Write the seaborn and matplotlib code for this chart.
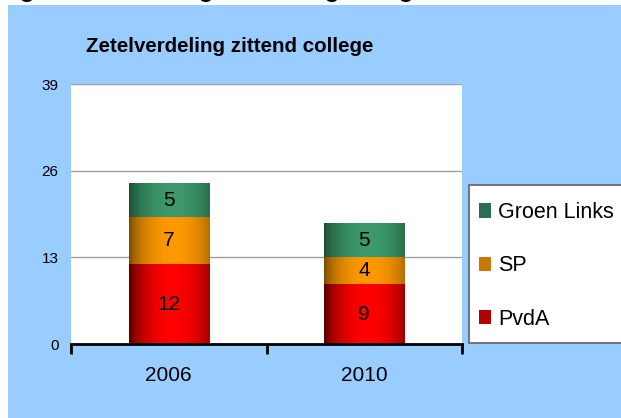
import numpy as np
import pandas as pd
import matplotlib
matplotlib.use("Agg")
import matplotlib.pyplot as plt
from matplotlib.patches import Rectangle, Patch
import seaborn as sns

# data
years = ["2006", "2010"]
pvda = [12, 9]
sp = [7, 4]
groen_links = [5, 5]
parties = ["PvdA", "SP", "Groen Links"]
y_ticks = [0, 13, 26, 39]

sns.set_theme(style="white")
plt.rcParams["font.family"] = ["Liberation Sans", "DejaVu Sans"]
plt.rcParams["text.color"] = "black"
plt.rcParams["xtick.color"] = "black"
plt.rcParams["ytick.color"] = "black"

df = pd.DataFrame({"year": years, "PvdA": pvda, "SP": sp, "Groen Links": groen_links})
df["cum_sp"] = df["PvdA"] + df["SP"]
df["cum_gl"] = df["cum_sp"] + df["Groen Links"]

# (dark edge colour, bright centre colour)
shades = {
    "PvdA": ((0.30, 0.0, 0.0), (1.0, 0.0, 0.0)),
    "SP": ((0.45, 0.28, 0.0), (1.0, 0.60, 0.0)),
    "Groen Links": ((0.10, 0.28, 0.18), (0.24, 0.60, 0.42)),
}
legend_cols = {"PvdA": "#b00000", "SP": "#c87800", "Groen Links": "#2a7050"}

fig = plt.figure(figsize=(6.21, 4.18), dpi=100, facecolor="white")
fig.patches.append(Rectangle((8 / 621, 0), 1, 1 - 5 / 418, transform=fig.transFigure,
                             facecolor="#99ccff", edgecolor="none", zorder=-10))
# cut-off header line above the chart
for gx in [19, 198, 324, 398]:
    fig.text(gx / 621, 1 + 4 / 418, "g", fontsize=21, va="baseline", color="black")

ax = fig.add_axes([71 / 621, 1 - 344 / 418, (462 - 71) / 621, (344 - 84) / 418])
ax.set_facecolor("white")

# stacked bars, top segment first
cols = [("Groen Links", "cum_gl"), ("SP", "cum_sp"), ("PvdA", "PvdA")]
for name, col in cols:
    sns.barplot(data=df, x="year", y=col, color=shades[name][1], width=0.41,
                ax=ax, zorder=2)

# horizontal cylinder shading on each bar segment
t = np.linspace(0, 1, 200)
prof = np.clip(1 - ((t - 0.55) / 0.55) ** 2, 0, 1) ** 0.7
for (name, col), cont in zip(cols, ax.containers):
    dark, bright = np.array(shades[name][0]), np.array(shades[name][1])
    grad = dark[None, :] + (bright - dark)[None, :] * prof[:, None]
    for p, base in zip(cont.patches, df[col] - df[name]):
        x0, w = p.get_x(), p.get_width()
        top = p.get_height()
        ax.imshow(grad[None, :, :], extent=(x0, x0 + w, base, top), aspect="auto",
                  zorder=3, interpolation="bilinear")
        p.set_visible(False)

# segment labels
for name, col in cols:
    for i, (v, c) in enumerate(zip(df[name], df[col])):
        ax.text(i, c - v / 2, str(v), ha="center", va="center", fontsize=15,
                color="black", zorder=4)

ax.set_xlim(-0.5, 1.5)
ax.set_ylim(0, 39)
ax.set_yticks(y_ticks)
ax.set_yticklabels([str(v) for v in y_ticks], fontsize=11)
ax.yaxis.grid(True, color="#a0a0a0", linewidth=1)
ax.set_axisbelow(True)
ax.tick_params(axis="y", length=0, pad=9)
ax.set_xticks([0, 1])
ax.set_xticklabels(years, fontsize=15)
ax.set_xticks([-0.5, 0.5, 1.5], minor=True)
ax.tick_params(axis="x", which="major", length=0, pad=16)
ax.tick_params(axis="x", which="minor", length=7, width=2, direction="out", color="black", bottom=True)
ax.set_xlabel("")
ax.set_ylabel("")
for s in ["left", "right", "top"]:
    ax.spines[s].set_visible(False)
ax.spines["bottom"].set_color("black")
ax.spines["bottom"].set_linewidth(2)
ax.spines["bottom"].set_zorder(5)

fig.text(230 / 621, 1 - 52 / 418, "Zetelverdeling zittend college", fontsize=14.8,
         fontweight="bold", ha="center", va="baseline", color="black")

# legend box
fig.patches.append(Rectangle((469 / 621, 1 - 343 / 418), 0.5, (343 - 185) / 418,
                             transform=fig.transFigure, facecolor="white",
                             edgecolor="#606060", linewidth=1.2, zorder=1))
handles = [Patch(facecolor=legend_cols[n], edgecolor="none") for n in reversed(parties)]
leg = fig.legend(handles, list(reversed(parties)), loc="upper left",
                 bbox_to_anchor=(479 / 621, 1 - 202 / 418), frameon=False, fontsize=15.5,
                 handlelength=0.55, handleheight=0.65, handletextpad=0.35, labelspacing=1.5,
                 borderpad=0, borderaxespad=0)
for txt in leg.get_texts():
    txt.set_color("black")

fig.savefig("out.png", dpi=100, facecolor=fig.get_facecolor())
